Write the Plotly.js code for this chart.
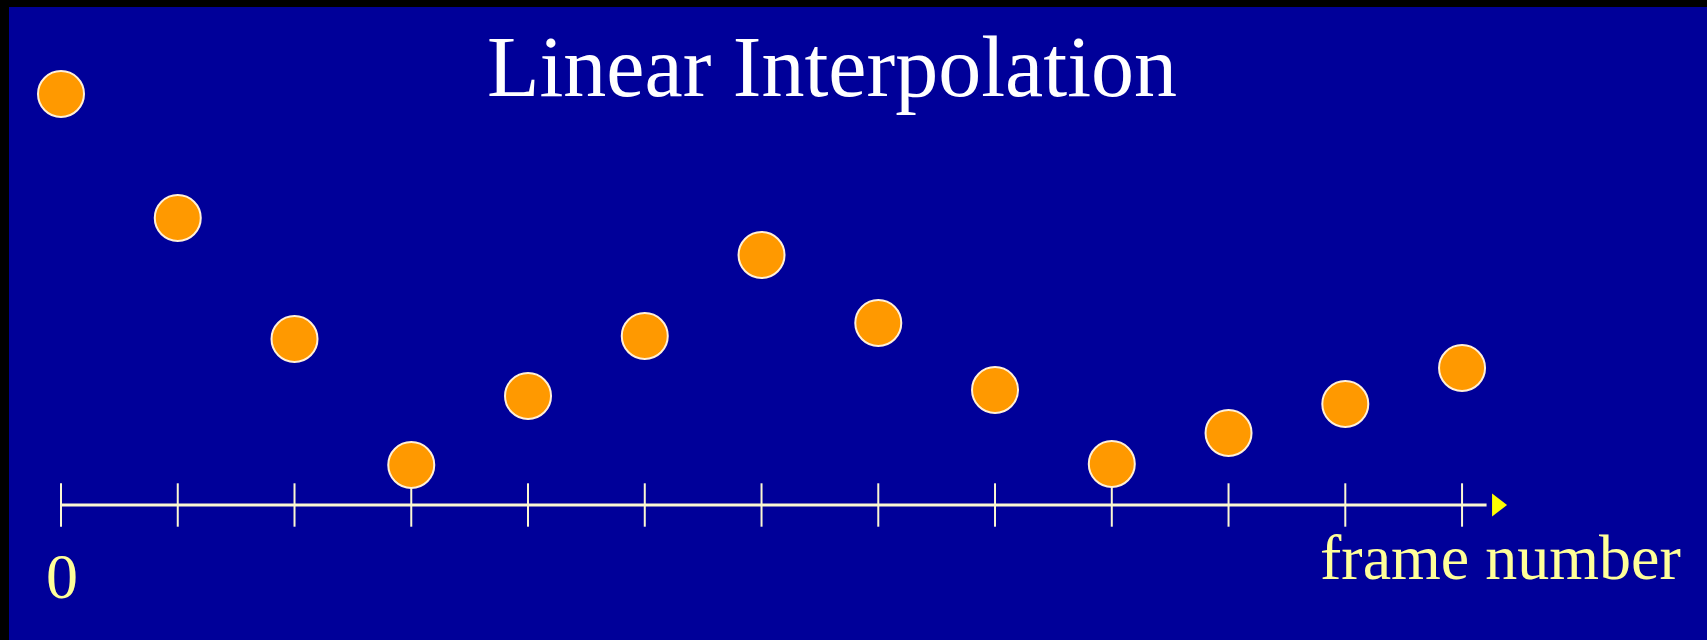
<!DOCTYPE html>
<html>
<head>
<meta charset="utf-8">
<script src="https://cdn.plot.ly/plotly-3.0.1.min.js"></script>
<style>
  html, body { margin: 0; padding: 0; background: #000; }
  #chart { width: 1707px; height: 640px; }
</style>
</head>
<body>
<div id="chart"></div>
<script>
// Frame numbers and the (interpolated) positions of the ball in each frame
const frames = [0, 1, 2, 3, 4, 5, 6, 7, 8, 9, 10, 11, 12];
const positions = [4.11, 2.87, 1.66, 0.40, 1.09, 1.69, 2.50, 1.82, 1.15, 0.41, 0.72, 1.01, 1.37];
const titleText = "Linear Interpolation";
const axisLabel = "frame number";
const originLabel = "0";
const axisEnd = 12.21;     // where the axis line meets the arrow head
const arrowTip = 12.3;     // arrow head centre on the frame axis

const serif = '"Liberation Serif", "Times New Roman", "DejaVu Serif", serif';

const traces = [
  { // axis line
    x: [frames[0], axisEnd], y: [0, 0],
    mode: 'lines', line: { color: '#fbf7d2', width: 3 },
    hoverinfo: 'skip'
  },
  { // tick marks at every frame
    x: frames, y: frames.map(() => 0),
    mode: 'markers',
    marker: { symbol: 'line-ns', size: 31, line: { color: '#fbf7d2', width: 2 } },
    hoverinfo: 'skip'
  },
  { // arrow head
    x: [arrowTip], y: [0],
    mode: 'markers',
    marker: { symbol: 'triangle-right', size: 20, color: '#ffff00', line: { width: 0 } },
    hoverinfo: 'skip'
  },
  { // ball positions
    x: frames, y: positions,
    mode: 'markers',
    marker: { symbol: 'circle', size: 46, color: '#ff9900', line: { color: '#fff0d8', width: 2 } },
    hoverinfo: 'skip'
  }
];

const layout = {
  width: 1707, height: 640,
  margin: { l: 9, r: 0, t: 7, b: 0, pad: 0 },
  paper_bgcolor: '#000000',
  plot_bgcolor: '#000099',
  showlegend: false,
  hovermode: false,
  title: {
    text: titleText,
    font: { family: serif, size: 86, color: '#ffffff' },
    xref: 'container', yref: 'container',
    x: 0.4874, xanchor: 'center',
    y: 0.897, yanchor: 'middle'
  },
  xaxis: { range: [-0.4454, 14.098], visible: false, fixedrange: true },
  yaxis: { range: [-1.35, 4.98], visible: false, fixedrange: true },
  annotations: [
    {
      text: originLabel, x: 0.01, y: -0.71, xref: 'x', yref: 'y',
      xanchor: 'center', yanchor: 'middle', showarrow: false,
      font: { family: serif, size: 64, color: '#ffff99' }
    },
    {
      text: axisLabel, x: 10.77, y: -0.52, xref: 'x', yref: 'y',
      xanchor: 'left', yanchor: 'middle', showarrow: false,
      font: { family: serif, size: 64, color: '#ffff99' }
    }
  ]
};

Plotly.newPlot('chart', traces, layout, { displayModeBar: false, staticPlot: true });
</script>
</body>
</html>
